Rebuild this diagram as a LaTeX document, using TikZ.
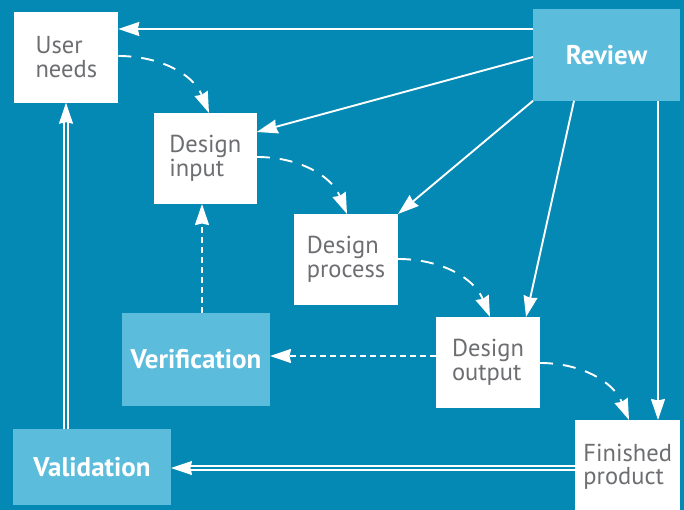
\documentclass[tikz,border=0pt]{standalone}
\usepackage{fontspec}
\setmainfont{PT Sans}
\usetikzlibrary{arrows.meta,calc}
\definecolor{bgblue}{HTML}{0389B4}
\definecolor{lightbox}{HTML}{5BBCDC}
\definecolor{greytext}{HTML}{6D6E71}
\tikzset{
  whitebox/.style={fill=white,draw=none,inner sep=0pt,outer sep=0pt,align=left,text=greytext,
    font=\fontsize{24.5}{23.5}\selectfont},
  lightnode/.style={fill=lightbox,draw=none,inner sep=0pt,outer sep=0pt,text=white,
    font=\fontsize{27}{28}\selectfont\bfseries},
  tip/.style={-{Stealth[length=21pt,width=14pt,inset=1.5pt]}},
  arr/.style={tip,white,line width=1.9pt},
  dasharr/.style={tip,white,line width=1.9pt,dash pattern=on 13pt off 10pt},
  dotarr/.style={tip,white,line width=1.9pt,dash pattern=on 6pt off 4pt},
  dbl/.style={white,double=bgblue,double distance=2.6pt,line width=1.3pt,
    -{Stealth[length=21pt,width=14pt,inset=1.5pt,fill=white]}}
}
\begin{document}
\begin{tikzpicture}[x=1pt,y=-1pt]
\fill[bgblue] (0,0) rectangle (684,510);
\useasboundingbox (0,0) rectangle (684,510);
\begin{scope}
\clip (0,0) rectangle (684,510);
\node[whitebox,minimum width=104pt,minimum height=91pt] (un) at (66.3,57.2) {User\\needs};
\node[whitebox,minimum width=103pt,minimum height=91pt] (di) at (205.3,158.5) {Design\\input};
\node[whitebox,minimum width=104pt,minimum height=91pt] (dp) at (346,259.5) {Design\\process};
\node[whitebox,minimum width=104pt,minimum height=91pt] (do) at (488,362.5) {Design\\output};
\node[whitebox,minimum width=105pt,minimum height=94pt] (fp) at (627.7,467) {Finished\\product};
\node[lightnode,minimum width=147pt,minimum height=92pt] (rev) at (606.5,54.8) {Review};
\node[lightnode,minimum width=148pt,minimum height=93pt] (ver) at (196,359.5) {Verification};
\node[lightnode,minimum width=158pt,minimum height=76pt] (val) at (92,467) {Validation};

% review arrows
\draw[arr] (rev.west |- 0,29) -- (un.east |- 0,29);
\draw[arr] (rev.west |- 0,57) -- (di.east |- 0,132);
\draw[arr] (rev.south west) -- (dp.north east);
\draw[arr] (rev.south -| 574,0) -- (do.north -| 526,0);
\draw[arr] (rev.south -| 658,0) -- (fp.north -| 658,0);

% dashed flow
\draw[dasharr] (un.east |- 0,56) to[out=0,in=112] (di.north -| 209,0);
\draw[dasharr] (di.east |- 0,157) to[out=0,in=112] (dp.north -| 347,0);
\draw[dasharr] (dp.east |- 0,259) to[out=0,in=112] (do.north -| 490,0);
\draw[dasharr] (do.east |- 0,363) to[out=0,in=112] (fp.north -| 629,0);

% verification
\draw[dotarr] (ver.north -| 202,0) -- (di.south -| 202,0);
\draw[dotarr] (do.west |- 0,356) -- (ver.east |- 0,356);

% validation
\draw[dbl] (fp.west |- 0,468) -- (val.east |- 0,468);
\draw[dbl] (val.north -| 66,0) -- (un.south -| 66,0);
\end{scope}
\end{tikzpicture}
\end{document}
